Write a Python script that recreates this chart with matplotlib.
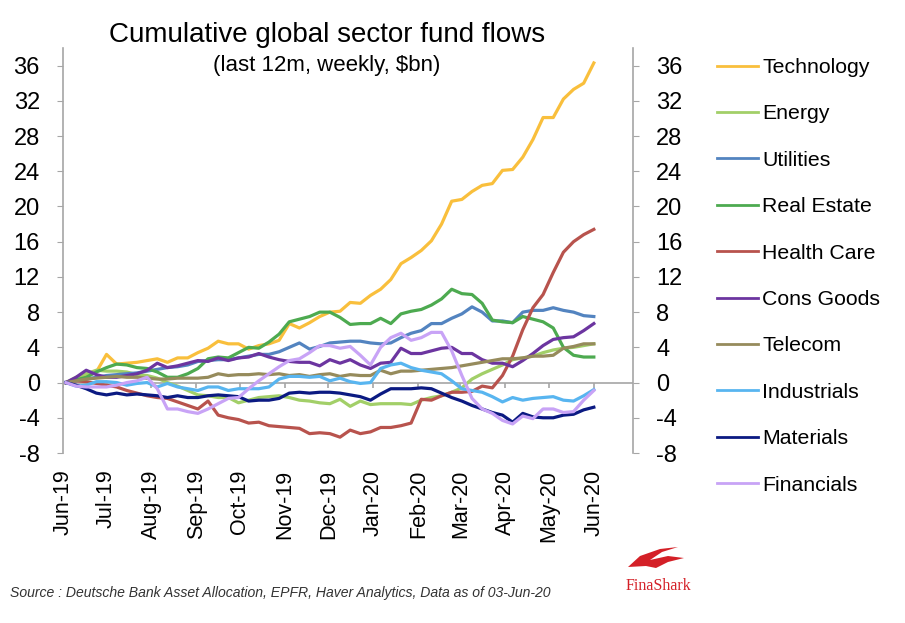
import matplotlib
matplotlib.use("Agg")
import matplotlib.pyplot as plt
from matplotlib.patches import Polygon
import pandas as pd

plt.rcParams["font.family"] = ["Liberation Sans", "DejaVu Sans"]

# weekly observations, Jun-19 .. Jun-20
dates = pd.date_range("2019-06-03", periods=53, freq="7D")

technology = [0, 0.3, 0.8, 1.2, 3.2, 2.1, 2.2, 2.3, 2.5, 2.7, 2.3, 2.8, 2.8, 3.4,
              3.9, 4.7, 4.4, 4.4, 3.8, 4.2, 4.4, 4.8, 6.7, 6.2, 6.8, 7.5, 8.0, 8.1,
              9.1, 9.0, 9.9, 10.6, 11.7, 13.5, 14.2, 15.0, 16.1, 18.0, 20.6, 20.8,
              21.7, 22.4, 22.6, 24.1, 24.2, 25.6, 27.6, 30.1, 30.1, 32.2, 33.3, 34.0, 36.3]
energy = [0, 0.6, 1.0, 1.4, 1.3, 1.3, 1.2, 0.9, 0.8, 0.5, 0.0, -0.4, -0.9, -1.4,
          -1.5, -1.7, -1.7, -2.3, -2.0, -1.7, -1.6, -1.5, -1.7, -2.0, -2.1, -2.3, -2.4,
          -1.9, -2.7, -2.1, -2.5, -2.4, -2.4, -2.4, -2.5, -2.0, -1.7, -1.5, -1.1, -0.6,
          0.4, 1.0, 1.5, 2.0, 2.6, 2.8, 3.0, 3.4, 3.7, 3.9, 4.0, 4.2, 4.4]
utilities = [0, 0.2, 0.4, 0.6, 0.8, 0.9, 1.0, 1.1, 1.3, 1.5, 1.7, 1.8, 2.0, 2.4,
             2.5, 2.6, 2.6, 2.8, 3.0, 3.2, 3.2, 3.5, 4.0, 4.5, 3.8, 4.1, 4.5, 4.6,
             4.7, 4.7, 4.5, 4.4, 4.5, 5.1, 5.6, 5.9, 6.7, 6.7, 7.3, 7.8, 8.6, 8.0,
             7.0, 7.0, 6.8, 8.0, 8.2, 8.2, 8.5, 8.2, 8.0, 7.6, 7.5]
real_estate = [0, 0.3, 0.6, 1.2, 1.7, 2.1, 2.0, 1.7, 1.6, 1.2, 0.6, 0.6, 1.0, 1.6,
               2.7, 2.9, 2.8, 3.4, 4.0, 3.9, 4.6, 5.5, 6.9, 7.2, 7.5, 8.0, 8.0, 7.4,
               6.6, 6.7, 6.7, 7.3, 6.7, 7.8, 8.1, 8.3, 8.8, 9.5, 10.6, 10.1, 10.0, 9.0,
               7.1, 6.9, 6.8, 7.5, 7.2, 6.9, 6.2, 4.0, 3.1, 2.9, 2.9]
health_care = [0, 0.2, 0.1, -0.1, -0.3, -0.5, -0.9, -1.2, -1.5, -1.7, -1.8, -2.2, -2.6,
               -3.0, -2.1, -3.7, -4.0, -4.2, -4.6, -4.5, -4.9, -5.0, -5.1, -5.2, -5.8,
               -5.7, -5.8, -6.2, -5.4, -5.8, -5.6, -5.1, -5.1, -4.9, -4.6, -1.9, -2.0,
               -1.5, -1.1, -1.1, -1.0, -0.4, -0.6, 0.8, 3.0, 6.0, 8.5, 10.0, 12.5, 14.8,
               16.0, 16.8, 17.4]
cons_goods = [0, 0.6, 1.4, 0.9, 0.6, 0.6, 0.8, 1.0, 1.4, 2.2, 1.7, 1.9, 2.2, 2.5,
              2.4, 2.8, 2.5, 2.8, 2.9, 3.3, 2.9, 2.6, 2.4, 2.3, 2.3, 1.9, 2.6, 2.2,
              2.6, 2.0, 1.6, 2.2, 2.3, 3.9, 3.3, 3.3, 3.6, 3.9, 4.0, 3.3, 3.3, 2.6,
              2.2, 2.2, 1.8, 2.5, 3.3, 4.2, 4.9, 5.1, 5.2, 5.9, 6.7]
telecom = [0, 0.2, 0.4, 0.5, 0.6, 0.7, 0.6, 0.6, 0.5, 0.4, 0.4, 0.5, 0.5, 0.5,
           0.6, 1.0, 0.8, 0.9, 0.9, 1.0, 0.9, 1.0, 0.8, 0.9, 0.7, 0.9, 1.0, 0.7,
           0.9, 0.8, 0.8, 1.4, 1.0, 1.3, 1.3, 1.4, 1.5, 1.6, 1.7, 1.9, 2.1, 2.3,
           2.5, 2.7, 2.7, 2.8, 3.0, 3.0, 3.1, 3.9, 4.1, 4.4, 4.4]
industrials = [0, -0.4, -0.3, 0.1, 0.1, 0.0, -0.3, -0.1, 0.0, -0.5, -0.1, -0.5, -0.7,
               -0.9, -0.5, -0.5, -0.9, -0.7, -0.7, -0.7, -0.5, 0.4, 0.7, 0.7, 0.6, 0.7,
               0.2, 0.5, 0.1, -0.1, 0.0, 1.6, 2.0, 2.2, 1.7, 1.4, 1.2, 1.0, 0.2, -0.7,
               -0.9, -1.1, -1.6, -2.2, -1.7, -2.0, -1.8, -1.7, -1.6, -2.0, -2.1, -1.5, -0.8]
materials = [0, -0.3, -0.7, -1.2, -1.4, -1.2, -1.4, -1.3, -1.4, -1.5, -1.7, -1.5, -1.7,
             -1.7, -1.5, -1.4, -1.5, -1.6, -2.1, -2.0, -2.0, -1.8, -1.2, -1.1, -1.2,
             -1.1, -1.1, -1.2, -1.4, -1.6, -2.0, -1.3, -0.7, -0.7, -0.7, -0.6, -0.7,
             -1.2, -1.7, -2.1, -2.6, -3.0, -3.4, -3.7, -4.5, -3.5, -3.9, -4.0, -4.0,
             -3.7, -3.6, -3.1, -2.8]
financials = [0, -0.4, -0.5, -0.5, -0.5, -0.3, 0.0, 0.2, 0.6, -0.7, -3.0, -3.0, -3.3,
              -3.5, -3.0, -2.4, -1.8, -1.7, -0.7, 0.2, 1.0, 1.8, 2.5, 2.7, 3.4, 4.2,
              4.2, 3.9, 4.1, 3.1, 2.0, 4.0, 5.1, 5.6, 4.8, 5.1, 5.7, 5.7, 3.6, 0.8,
              -1.8, -3.0, -3.5, -4.3, -4.7, -3.8, -4.1, -3.0, -3.0, -3.4, -3.3, -2.0, -0.9]

sectors = ["Technology", "Energy", "Utilities", "Real Estate", "Health Care",
           "Cons Goods", "Telecom", "Industrials", "Materials", "Financials"]
colors = ["#F9BF3C", "#A2CF68", "#5384C0", "#4DAA50", "#B8534D",
          "#6C35A0", "#968B5C", "#58B5F0", "#0B1A82", "#C8A3F6"]
series = [technology, energy, utilities, real_estate, health_care,
          cons_goods, telecom, industrials, materials, financials]

y_ticks = list(range(-8, 37, 4))
month_ticks = pd.date_range("2019-06-01", "2020-06-01", freq="MS")

W, H = 905, 623
fig = plt.figure(figsize=(W / 100, H / 100), dpi=100)
ax = fig.add_axes([63 / W, 1 - 453 / H, (633 - 63) / W, (453 - 48) / H])

for name, vals, c in zip(sectors, series, colors):
    ax.plot(dates, vals, color=c, lw=2.3, label=name, solid_joinstyle="round")

grey = "#A6A6A6"
ax.set_ylim(-8, 38)
ax.set_xlim(pd.Timestamp("2019-06-01"), pd.Timestamp("2020-06-28"))
ax.set_yticks(y_ticks)
ax.set_yticklabels([str(v) for v in y_ticks])

# x axis crosses at zero, labels sit below the plot
ax.axhline(0, color=grey, lw=1.2, zorder=0)
ax.vlines(month_ticks, -0.6, 0, color=grey, lw=1.2, zorder=0)
ax.set_xticks(month_ticks)
ax.set_xticklabels([d.strftime("%b-%y") for d in month_ticks], rotation=90,
                   fontsize=15.5)
ax.tick_params(axis="x", length=0, pad=12)

for s in ["top", "bottom"]:
    ax.spines[s].set_visible(False)
for s in ["left", "right"]:
    ax.spines[s].set_color(grey)
    ax.spines[s].set_linewidth(1.2)
ax.tick_params(axis="y", which="both", left=True, right=True, labelleft=True,
               labelright=True, direction="out", length=4, color=grey,
               labelsize=17, pad=12.6)

leg = ax.legend(loc="upper left", bbox_to_anchor=(717 / W, 1 - 58 / H),
                bbox_transform=fig.transFigure, frameon=False, fontsize=15.3,
                handlelength=1.93, handletextpad=0.2, labelspacing=1.29,
                borderaxespad=0, borderpad=0)
for line in leg.get_lines():
    line.set_linewidth(2.0)

fig.text(327 / W, 1 - 35 / H, "Cumulative global sector fund flows",
         ha="center", va="center", fontsize=20)
fig.text(327 / W, 1 - 65 / H, "(last 12m, weekly, $bn)",
         ha="center", va="center", fontsize=16)
fig.text(10 / W, 1 - 593 / H,
         "Source : Deutsche Bank Asset Allocation, EPFR, Haver Analytics, Data as of 03-Jun-20",
         ha="left", va="center", fontsize=10.1, style="italic", color="#333333")

# FinaShark logo
fin = [(628, 567), (640, 556), (660, 549), (678, 547), (662, 552), (650, 560),
       (668, 556), (684, 558), (668, 562), (656, 568), (646, 566)]
fig.patches.append(Polygon([(x / W, 1 - y / H) for x, y in fin], closed=True,
                           transform=fig.transFigure, facecolor="#D42027",
                           edgecolor="none"))
fig.text(658 / W, 1 - 586 / H, "FinaShark", ha="center", va="center",
         fontsize=11.5, color="#D42027", family="Liberation Serif")

fig.savefig("out.png", dpi=100)
